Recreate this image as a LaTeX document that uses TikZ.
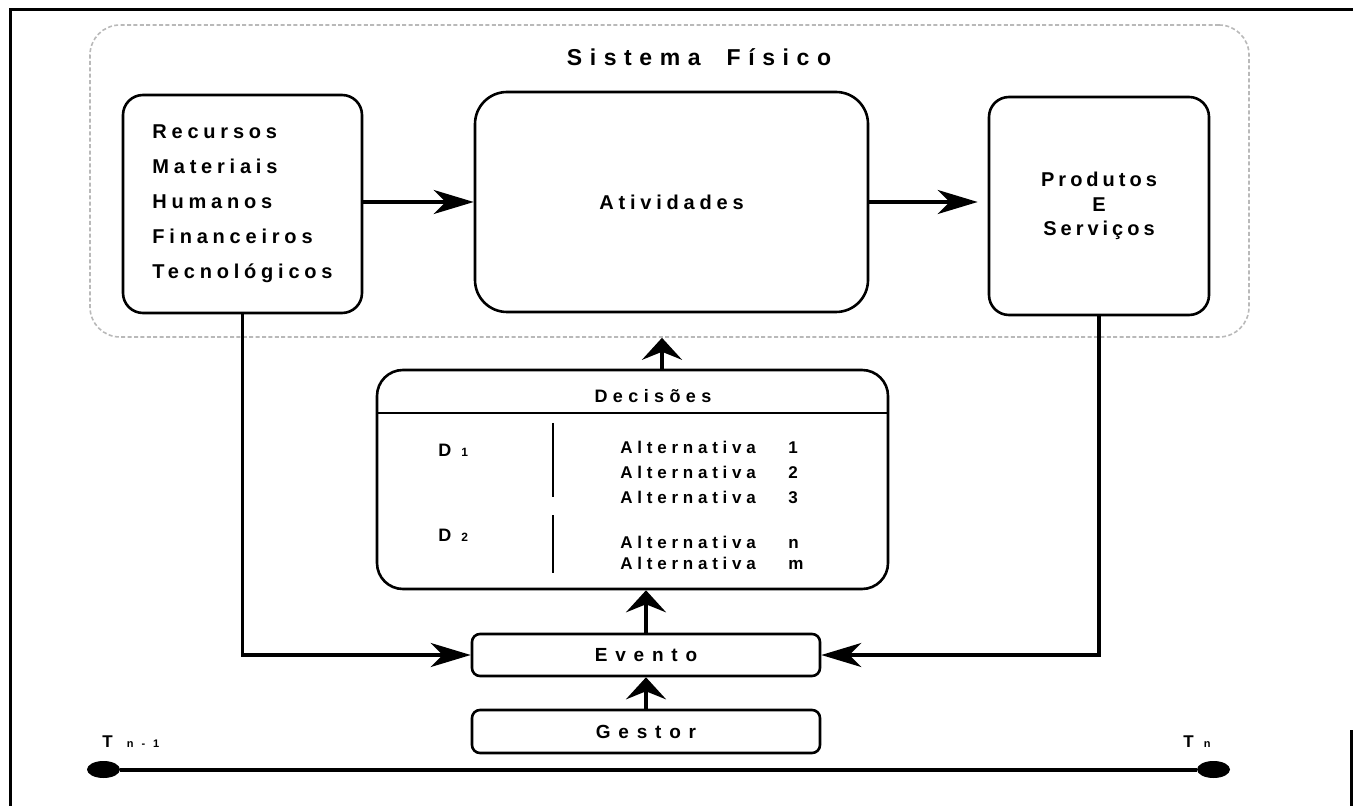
\documentclass[tikz,border=0pt]{standalone}
\usepackage{fontspec}
\setmainfont{Liberation Sans}
\usetikzlibrary{arrows.meta,shapes.geometric}

% bold, letter-spaced lettering: size, spacing, baselineskip
\newcommand\lsfont[3]{\bfseries\fontsize{#1}{#3}\selectfont\addfontfeatures{LetterSpace=#2}}

\tikzset{
  box/.style={draw, line width=1.3pt, inner sep=0pt},
  conn/.style={line width=1.8pt},
  hhead/.style={-{Stealth[length=20pt,width=12pt,inset=6pt]}},
  vhead/.style={-{Stealth[length=11pt,width=20pt,inset=4pt]}},
  sysframe/.style={draw=gray!55, line width=0.8pt, dash pattern=on 2pt off 1.2pt, rounded corners=15pt},
  dot/.style={ellipse, fill=black, minimum width=16.5pt, minimum height=8.5pt, inner sep=0pt},
  txt/.style={inner sep=0pt},
}

\begin{document}
\begin{tikzpicture}[x=0.5pt, y=-0.5pt]
\useasboundingbox (0,0) rectangle (1353,806);

% page frame
\draw[line width=1.5pt] (10,806) -- (10,10) -- (1353,10);
\draw[line width=1.5pt] (1351,730) -- (1351,806);

% physical system
\node[sysframe, minimum width=579.5pt, minimum height=156pt] (sys) at (669.5,181) {};
\node[txt, font=\lsfont{11.5}{33}{13}] (systitle) at (699,57) {Sistema\hspace{6pt} Físico};

\node[box, rounded corners=10pt, minimum width=119.5pt, minimum height=109pt,
      align=left, font=\lsfont{10}{24}{17.5}] (rec) at (242.5,204)
  {Recursos\\Materiais\\Humanos\\Financeiros\\Tecnológicos};
\node[box, rounded corners=16pt, minimum width=196.5pt, minimum height=110pt,
      font=\lsfont{10}{24}{12}] (ativ) at (671.5,202) {Atividades};
\node[box, rounded corners=10pt, minimum width=110pt, minimum height=109pt,
      align=center, font=\lsfont{10}{20}{12.25}] (prod) at (1099,206)
  {Produtos\\E\\Serviços};

% decisions table
\node[box, rounded corners=13pt, minimum width=255.5pt, minimum height=109.5pt] (dec) at (632.5,479.5) {};
\node[txt, font=\lsfont{9}{30}{10}] (dectitle) at (653,396) {Decisões};
\draw[line width=1.3pt] (377,413) -- (888,413);
\draw[line width=1.3pt] (553,423) -- (553,497);
\draw[line width=1.3pt] (553,515) -- (553,573);
\node[txt, anchor=west, font=\lsfont{9}{20}{10}] (d1) at (438,450) {D\hspace{5pt}{\fontsize{6}{7}\selectfont 1}};
\node[txt, anchor=west, font=\lsfont{9}{20}{10}] (d2) at (438,535) {D\hspace{5pt}{\fontsize{6}{7}\selectfont 2}};
\node[txt, anchor=west, align=left, font=\lsfont{8.5}{28}{12.5}] (alta) at (620,472)
  {\makebox[84pt][l]{Alternativa}1\\\makebox[84pt][l]{Alternativa}2\\\makebox[84pt][l]{Alternativa}3};
\node[txt, anchor=west, align=left, font=\lsfont{8.5}{28}{10.5}] (altb) at (620,552.5)
  {\makebox[84pt][l]{Alternativa}n\\\makebox[84pt][l]{Alternativa}m};

% event and manager
\node[box, rounded corners=4pt, minimum width=174pt, minimum height=21pt,
      font=\lsfont{9.5}{41}{10}] (ev) at (646,655) {Evento};
\node[box, rounded corners=4pt, minimum width=174pt, minimum height=21.5pt,
      font=\lsfont{9.5}{41}{10}] (gest) at (646,731.5) {Gestor};

% flows
\draw[conn, hhead] (rec.east |- ativ.west) -- (ativ.west);
\draw[conn, hhead, shorten >=5pt] (ativ.east) -- (prod.west |- ativ.east);
\draw[conn, hhead] (rec.south) |- (ev.west);
\draw[conn, hhead] (prod.south) |- (ev.east);
\draw[conn, vhead] (ev.north) -- (ev.north |- dec.south);
\draw[conn, vhead] (gest.north) -- (ev.south);
\coordinate (up) at (662,0);
\draw[conn, vhead] (up |- dec.north) -- (up |- sys.south);

% time axis
\node[dot] (t0) at (103.5,769.5) {};
\node[dot] (t1) at (1213.5,769.5) {};
\draw[line width=2pt] (t0) -- (t1);
\node[txt, anchor=base west, font=\bfseries\fontsize{8.5}{9}\selectfont] (tl0) at (102,747)
  {T\hspace{7pt}{\fontsize{5.5}{6}\selectfont n\hspace{4pt}-\hspace{4pt}1}};
\node[txt, anchor=base west, font=\bfseries\fontsize{8.5}{9}\selectfont] (tl1) at (1183,747)
  {T\hspace{5pt}{\fontsize{5.5}{6}\selectfont n}};
\end{tikzpicture}
\end{document}
